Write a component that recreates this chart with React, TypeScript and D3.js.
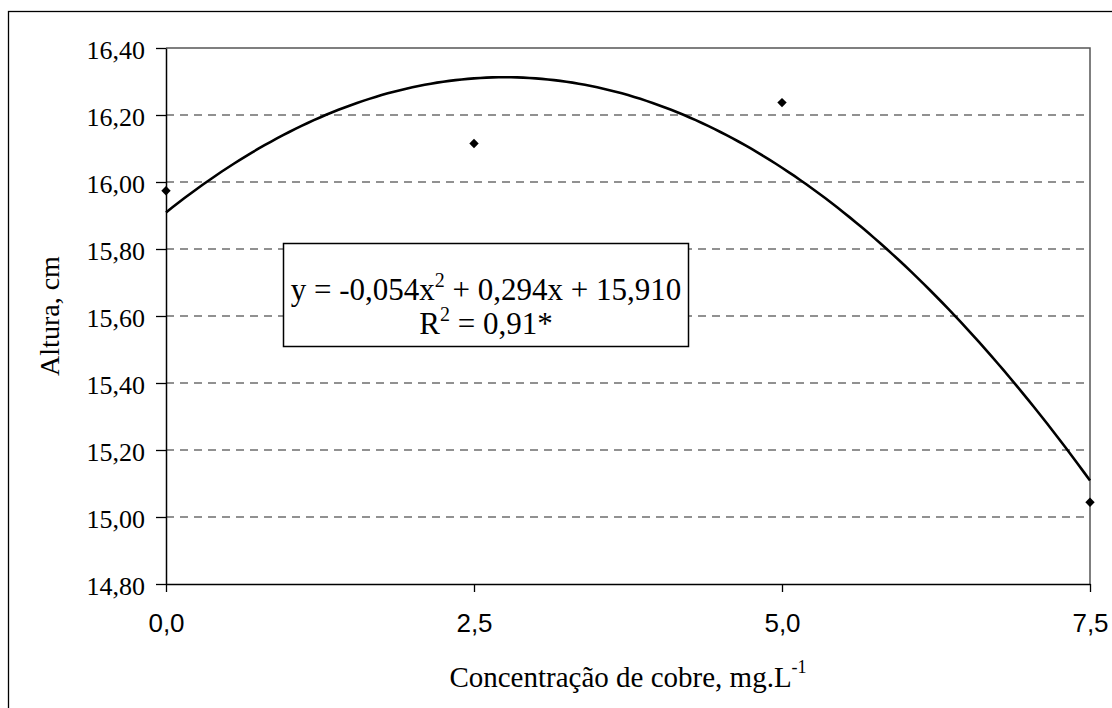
import React, { useEffect, useRef } from 'react';
import * as d3 from 'd3';

// measured points (Altura, cm) per copper concentration
const concentracao = [0, 2.5, 5.0, 7.5];
const altura = [15.974, 16.115, 16.237, 15.044];

const yTicks = [14.8, 15.0, 15.2, 15.4, 15.6, 15.8, 16.0, 16.2, 16.4];
const xTicks = [0, 2.5, 5.0, 7.5];

const equationText = 'y = -0,054x';
const equationRest = ' + 0,294x + 15,910';
const r2Text = ' = 0,91*';

// least squares quadratic fit (the trendline Excel draws)
const fitQuadratic = (xs: number[], ys: number[]) => {
  const s = [0, 0, 0, 0, 0];
  const t = [0, 0, 0];
  xs.forEach((x, i) => {
    for (let k = 0; k < 5; k++) s[k] += Math.pow(x, k);
    for (let k = 0; k < 3; k++) t[k] += Math.pow(x, k) * ys[i];
  });
  const m = [
    [s[0], s[1], s[2], t[0]],
    [s[1], s[2], s[3], t[1]],
    [s[2], s[3], s[4], t[2]],
  ];
  for (let c = 0; c < 3; c++) {
    for (let r = c + 1; r < 3; r++) {
      const f = m[r][c] / m[c][c];
      for (let k = c; k < 4; k++) m[r][k] -= f * m[c][k];
    }
  }
  const b = [0, 0, 0];
  for (let r = 2; r >= 0; r--) {
    let v = m[r][3];
    for (let k = r + 1; k < 3; k++) v -= m[r][k] * b[k];
    b[r] = v / m[r][r];
  }
  return (x: number) => b[0] + b[1] * x + b[2] * x * x;
};

const fmt = (v: number, d: number) => v.toFixed(d).replace('.', ',');

const serif = '"Liberation Serif", "Times New Roman", serif';
const sans = '"Liberation Sans", Arial, sans-serif';

const Chart = () => {
  const ref = useRef<SVGSVGElement>(null);

  useEffect(() => {
    const left = 166, right = 1090, top = 48, bottom = 584;
    const svg = d3.select(ref.current);
    svg.selectAll('*').remove();

    const x = d3.scaleLinear().domain([0, 7.5]).range([left, right]);
    const y = d3.scaleLinear().domain([14.8, 16.4]).range([bottom, top]);

    // outer chart border (runs off the page on right/bottom)
    svg.append('rect')
      .attr('x', 8.5).attr('y', 11.5)
      .attr('width', 1200).attr('height', 800)
      .attr('fill', 'white')
      .attr('stroke', '#000').attr('stroke-width', 1.3);

    // gridlines
    svg.append('g')
      .selectAll('line')
      .data(yTicks.filter(v => v > 14.81 && v < 16.39))
      .enter()
      .append('line')
      .attr('x1', left).attr('x2', right)
      .attr('y1', d => y(d)).attr('y2', d => y(d))
      .attr('stroke', '#6e6e6e')
      .attr('stroke-width', 1.3)
      .attr('stroke-dasharray', '8,6');

    // plot area border top / right
    svg.append('path')
      .attr('d', `M${left},${top}H${right}V${bottom}`)
      .attr('fill', 'none')
      .attr('stroke', '#555')
      .attr('stroke-width', 1.5);

    // y axis
    const yAxis = svg.append('g')
      .attr('transform', `translate(${left},0)`)
      .call(d3.axisLeft(y).tickValues(yTicks).tickSize(10).tickSizeOuter(0).tickPadding(11).tickFormat(d => fmt(+d, 2)));
    yAxis.select('.domain').attr('stroke', '#000').attr('stroke-width', 1.5);
    yAxis.selectAll('.tick line').attr('stroke', '#000').attr('stroke-width', 1.3);
    yAxis.selectAll('.tick text')
      .style('font-family', serif)
      .style('font-size', '26px')
      .attr('fill', '#000')
      .attr('dy', '0.42em');

    // x axis
    const xAxis = svg.append('g')
      .attr('transform', `translate(0,${bottom})`)
      .call(d3.axisBottom(x).tickValues(xTicks).tickSize(8).tickSizeOuter(0).tickPadding(22).tickFormat(d => fmt(+d, 1)));
    xAxis.select('.domain').attr('stroke', '#000').attr('stroke-width', 1.5);
    xAxis.selectAll('.tick line').attr('stroke', '#000').attr('stroke-width', 1.3);
    xAxis.selectAll('.tick text')
      .style('font-family', sans)
      .style('font-size', '26px')
      .attr('fill', '#000');

    // trendline
    const f = fitQuadratic(concentracao, altura);
    const xs = d3.range(0, 7.5 + 1e-9, 0.05);
    const line = d3.line<number>().x(d => x(d)).y(d => y(f(d)));
    svg.append('path')
      .datum(xs)
      .attr('fill', 'none')
      .attr('stroke', '#000')
      .attr('stroke-width', 2.6)
      .attr('d', line);

    // points
    svg.append('g')
      .selectAll('path')
      .data(concentracao.map((c, i) => ({ c, a: altura[i] })))
      .enter()
      .append('path')
      .attr('d', d3.symbol(d3.symbolSquare, 44)())
      .attr('transform', d => `translate(${x(d.c)},${y(d.a)}) rotate(45)`)
      .attr('fill', '#000');

    // equation box
    const box = svg.append('g');
    box.append('rect')
      .attr('x', 283.5).attr('y', 243.5)
      .attr('width', 405).attr('height', 103)
      .attr('fill', 'white')
      .attr('stroke', '#000').attr('stroke-width', 1.5);
    const t1 = box.append('text')
      .attr('x', 486).attr('y', 300)
      .attr('text-anchor', 'middle')
      .style('font-family', serif).style('font-size', '31px').attr('fill', '#000');
    t1.append('tspan').text(equationText);
    t1.append('tspan').attr('dy', -13).style('font-size', '20px').text('2');
    t1.append('tspan').attr('dy', 13).text(equationRest);
    const t2 = box.append('text')
      .attr('x', 486).attr('y', 334)
      .attr('text-anchor', 'middle')
      .style('font-family', serif).style('font-size', '31px').attr('fill', '#000');
    t2.append('tspan').text('R');
    t2.append('tspan').attr('dy', -13).style('font-size', '20px').text('2');
    t2.append('tspan').attr('dy', 13).text(r2Text);

    // axis titles
    svg.append('text')
      .attr('transform', `translate(59,${(top + bottom) / 2}) rotate(-90)`)
      .attr('text-anchor', 'middle')
      .style('font-family', serif).style('font-size', '28px').attr('fill', '#000')
      .text('Altura, cm');

    const xt = svg.append('text')
      .attr('x', (left + right) / 2).attr('y', 687)
      .attr('text-anchor', 'middle')
      .style('font-family', serif).style('font-size', '29px').attr('fill', '#000');
    xt.append('tspan').text('Concentração de cobre, mg.L');
    xt.append('tspan').attr('dy', -14).style('font-size', '18px').text('-1');
  }, []);

  return (
    <svg ref={ref} width={1112} height={708}
      style={{ position: 'absolute', left: 0, top: 0, background: 'white' }} />
  );
};

export default function App() {
  return <Chart />;
}
